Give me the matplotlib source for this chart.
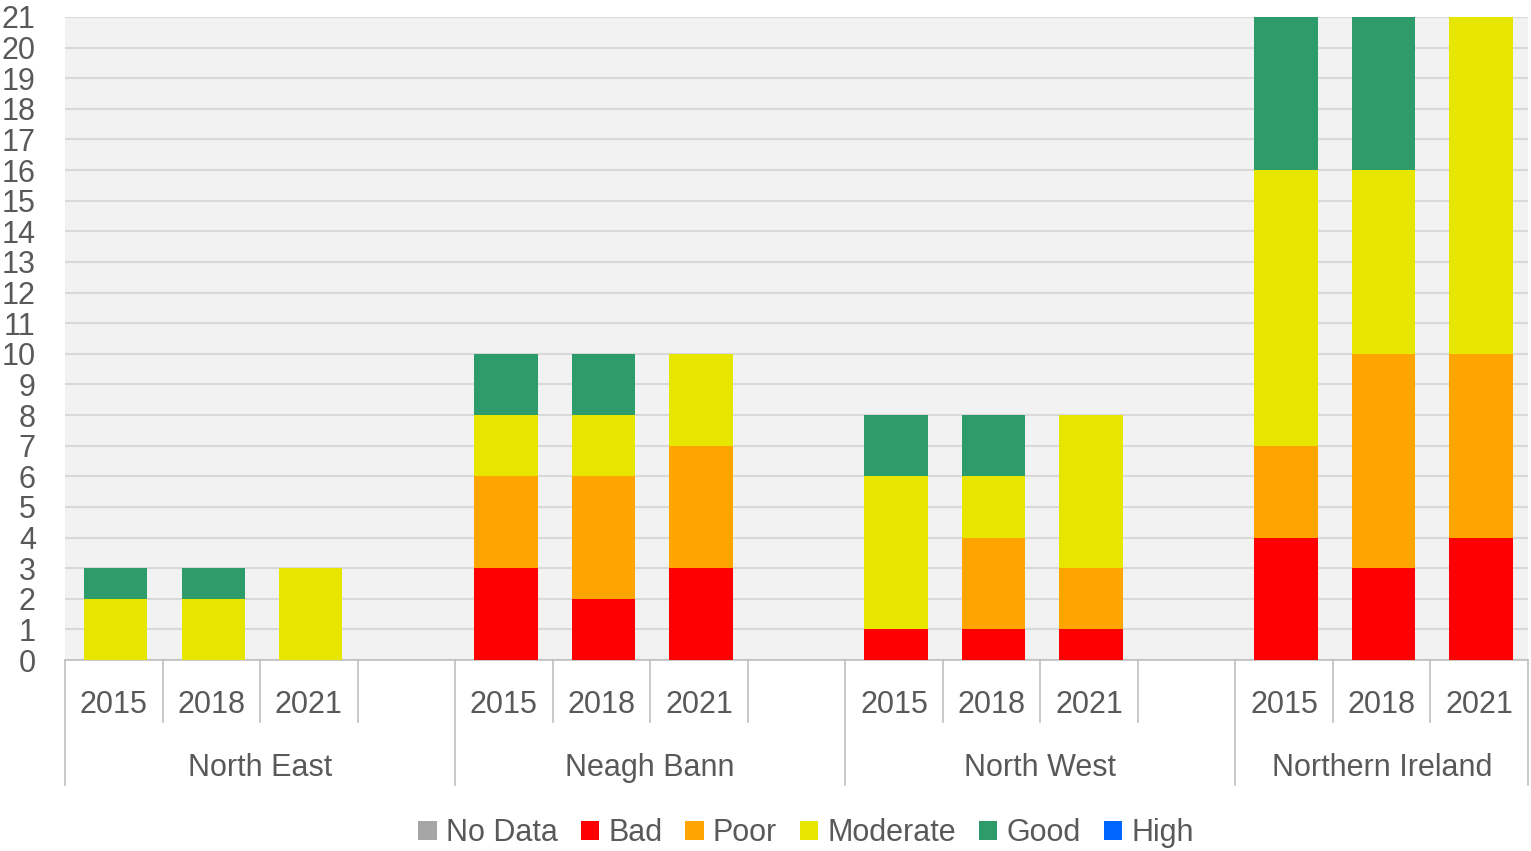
import numpy as np
import matplotlib
matplotlib.use("Agg")
from matplotlib import pyplot as plt
from matplotlib.patches import Patch

plt.rcParams['font.family'] = ['Liberation Sans', 'DejaVu Sans']

regions = ["North East", "Neagh Bann", "North West", "Northern Ireland"]
years = ["2015", "2018", "2021"]

# one value per bar, order: region by region, years 2015/2018/2021
no_data = [0, 0, 0, 0, 0, 0, 0, 0, 0, 0, 0, 0]
bad = [0, 0, 0, 3, 2, 3, 1, 1, 1, 4, 3, 4]
poor = [0, 0, 0, 3, 4, 4, 0, 3, 2, 3, 7, 6]
moderate = [2, 2, 3, 2, 2, 3, 5, 2, 5, 9, 6, 11]
good = [1, 1, 0, 2, 2, 0, 2, 2, 0, 5, 5, 0]
high = [0, 0, 0, 0, 0, 0, 0, 0, 0, 0, 0, 0]

series = [("No Data", no_data, "#a6a6a6"),
          ("Bad", bad, "#ff0000"),
          ("Poor", poor, "#ffa500"),
          ("Moderate", moderate, "#e6e600"),
          ("Good", good, "#2e9c6a"),
          ("High", high, "#0066ff")]

text_col = "#595959"
fs = 22

fig = plt.figure(figsize=(15.31, 8.51), dpi=100)
W, H = 1531, 851
ax = fig.add_axes([65 / W, 1 - 660 / H, (1528 - 65) / W, (660 - 17) / H])
ax.set_facecolor("#f2f2f2")

# slot positions: 4 slots per region (3 bars + a gap), last region has no gap
x = []
for g in range(len(regions)):
    for k in range(len(years)):
        x.append(g * 4 + k)
x = np.array(x)

bottom = np.zeros(len(x))
for name, vals, col in series:
    vals = np.array(vals, dtype=float)
    ax.bar(x + 0.02, vals, width=0.65, bottom=bottom, color=col, linewidth=0, zorder=3)
    bottom += vals

ax.set_xlim(-0.5, 14.5)
ax.set_ylim(0, 21)
ax.set_yticks(range(0, 22))
ax.tick_params(axis='y', length=0, pad=21, labelsize=fs, labelcolor=text_col)
ax.tick_params(axis='x', length=0, labelbottom=False)
ax.yaxis.grid(True, color="#d9d9d9", linewidth=1.5, zorder=0)
ax.set_axisbelow(True)
for s in ["left", "right", "top"]:
    ax.spines[s].set_visible(False)
ax.spines["bottom"].set_color("#bfbfbf")
ax.spines["bottom"].set_linewidth(1.2)

tr = ax.get_xaxis_transform()
short_h = -62 / 643
long_h = -125 / 643
# separators
bounds = np.arange(-0.5, 15.0, 1.0)
for b in bounds:
    is_long = (b + 0.5) % 4 == 0 or b == 14.5
    ax.plot([b, b], [0, long_h if is_long else short_h], transform=tr,
            color="#bfbfbf", linewidth=1.2, clip_on=False)

for xi, i in zip(x, range(len(x))):
    ax.text(xi, -45 / 643, years[i % 3], transform=tr, ha="center", va="center",
            fontsize=fs, color=text_col)

for g, r in enumerate(regions):
    if g < 3:
        cx = g * 4 + 1.5
    else:
        cx = g * 4 + 1.0
    ax.text(cx, -108 / 643, r, transform=tr, ha="center", va="center",
            fontsize=fs, color=text_col)

handles = [Patch(facecolor=c, edgecolor="none", label=n) for n, v, c in series]
fig.legend(handles=handles, loc="center", bbox_to_anchor=(806 / W, 1 - 833 / H),
           ncol=6, frameon=False, fontsize=fs, labelcolor=text_col,
           handlelength=0.6, handleheight=0.6, handletextpad=0.3,
           columnspacing=0.75)

fig.savefig("out.png", dpi=100)
